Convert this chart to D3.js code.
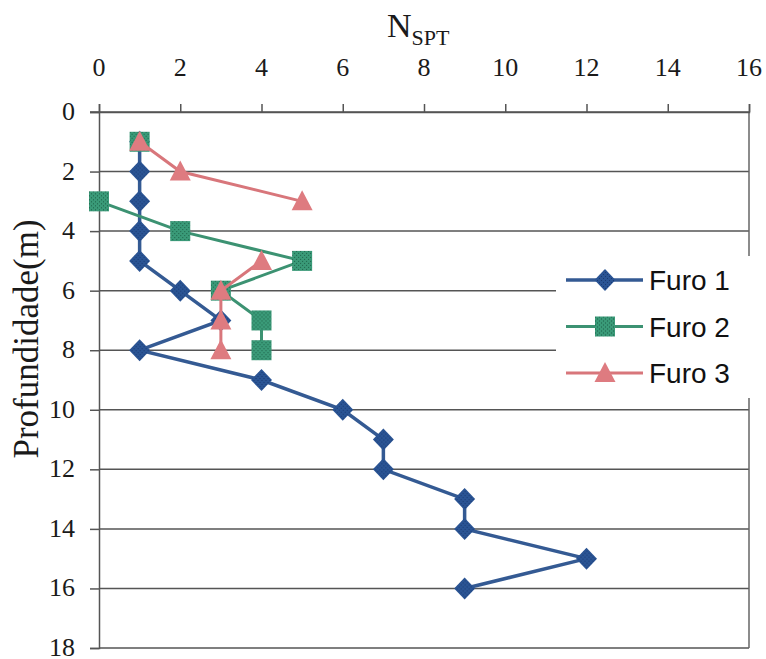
<!DOCTYPE html>
<html>
<head>
<meta charset="utf-8">
<script src="https://cdn.jsdelivr.net/npm/d3@7"></script>
<style>
  body { margin: 0; background: #fff; }
  text.lbl { font-family: "Liberation Serif", "Times New Roman", serif; font-size: 26px; fill: #1a1a1a; }
</style>
</head>
<body>
<svg id="chart" width="766" height="659"></svg>
<script>
// depths (m) and N_SPT per borehole, null = no reading
const depths = [1, 2, 3, 4, 5, 6, 7, 8, 9, 10, 11, 12, 13, 14, 15, 16];
const furo1 = [1, 1, 1, 1, 1, 2, 3, 1, 4, 6, 7, 7, 9, 9, 12, 9];
const furo2 = [1, null, 0, 2, 5, 3, 4, 4];
const furo3 = [1, 2, 5, null, 4, 3, 3, 3];
const seriesNames = ["Furo 1", "Furo 2", "Furo 3"];
const xTicks = [0, 2, 4, 6, 8, 10, 12, 14, 16];
const yTicks = [0, 2, 4, 6, 8, 10, 12, 14, 16, 18];

const svg = d3.select("#chart");
const x = d3.scaleLinear().domain([0, 16]).range([99, 749]);
const y = d3.scaleLinear().domain([0, 18]).range([112, 648]);

// textures for markers
const defs = svg.append("defs");
function dotted(id, base, dot) {
  const p = defs.append("pattern").attr("id", id)
    .attr("width", 4).attr("height", 4).attr("patternUnits", "userSpaceOnUse");
  p.append("rect").attr("width", 4).attr("height", 4).attr("fill", base);
  p.append("rect").attr("x", 0).attr("y", 0).attr("width", 1).attr("height", 1).attr("fill", dot);
  p.append("rect").attr("x", 2).attr("y", 2).attr("width", 1).attr("height", 1).attr("fill", dot);
}
dotted("texBlue", "#2a5494", "#1a3a72");
dotted("texGreen", "#3a9a78", "#1c5f47");

const styles = [
  { line: "#345a93", fill: "url(#texBlue)", width: 3.5, shape: "diamond" },
  { line: "#3c9272", fill: "url(#texGreen)", width: 3, shape: "square" },
  { line: "#d8767b", fill: "#de7b80", width: 3, shape: "triangle" }
];

function shapePath(shape) {
  if (shape === "diamond") return "M0,-11L10.5,0L0,11L-10.5,0Z";
  if (shape === "square") return "M-10,-10H10V10H-10Z";
  return "M0,-11L10.5,9L-10.5,9Z";
}

// grid lines
svg.append("g").selectAll("line")
  .data(yTicks.slice(1))
  .join("line")
  .attr("x1", x(0)).attr("x2", x(16))
  .attr("y1", d => y(d)).attr("y2", d => y(d))
  .attr("stroke", "#555").attr("stroke-width", 1.5);

// right border
svg.append("line")
  .attr("x1", x(16)).attr("x2", x(16))
  .attr("y1", y(0)).attr("y2", y(18))
  .attr("stroke", "#666").attr("stroke-width", 1.5);

// axes (tick marks from d3, labels drawn below with the same scales)
const xAxisG = svg.append("g")
  .attr("transform", `translate(0,${y(0)})`)
  .call(d3.axisTop(x).tickValues(xTicks).tickSize(8).tickFormat(""));
const yAxisG = svg.append("g")
  .attr("transform", `translate(${x(0)},0)`)
  .call(d3.axisLeft(y).tickValues(yTicks).tickSize(9).tickFormat(""));
[xAxisG, yAxisG].forEach(g => {
  g.select(".domain").attr("stroke", "#555").attr("stroke-width", 1.5);
  g.selectAll(".tick line").attr("stroke", "#555").attr("stroke-width", 1.5);
});
svg.selectAll("text.xl")
  .data(xTicks)
  .join("text")
  .attr("class", "lbl xl")
  .attr("x", d => x(d))
  .attr("y", 76)
  .attr("text-anchor", "middle")
  .text(d => d);
svg.selectAll("text.yl")
  .data(yTicks)
  .join("text")
  .attr("class", "lbl yl")
  .attr("x", 75)
  .attr("y", d => y(d) + 8)
  .attr("text-anchor", "end")
  .text(d => d);

// top axis line also runs left of the y axis like the tick at 0
svg.append("line")
  .attr("x1", x(0) - 9).attr("x2", x(16))
  .attr("y1", y(0)).attr("y2", y(0))
  .attr("stroke", "#555").attr("stroke-width", 1.5);

// axis titles
const title = svg.append("text")
  .attr("class", "lbl")
  .attr("x", 387).attr("y", 37);
title.append("tspan").style("font-size", "34px").text("N");
title.append("tspan").style("font-size", "22px").attr("dy", 8).text("SPT");

svg.append("text")
  .attr("class", "lbl")
  .attr("transform", `translate(38,339) rotate(-90)`)
  .attr("text-anchor", "middle")
  .style("font-size", "35px")
  .text("Profundidade(m)");

// series
const allSeries = [furo1, furo2, furo3].map((vals, i) => ({
  name: seriesNames[i],
  style: styles[i],
  points: vals.map((v, j) => ({ n: v, depth: depths[j] }))
}));

const line = d3.line()
  .defined(d => d.n !== null)
  .x(d => x(d.n))
  .y(d => y(d.depth));

allSeries.forEach(s => {
  const g = svg.append("g");
  g.append("path")
    .datum(s.points)
    .attr("d", line)
    .attr("fill", "none")
    .attr("stroke", s.style.line)
    .attr("stroke-width", s.style.width);
  g.selectAll("path.mark")
    .data(s.points.filter(d => d.n !== null))
    .join("path")
    .attr("class", "mark")
    .attr("transform", d => `translate(${x(d.n)},${y(d.depth)})`)
    .attr("d", shapePath(s.style.shape))
    .attr("fill", s.style.fill);
});

// legend
const legend = svg.append("g");
legend.append("rect")
  .attr("x", 556).attr("y", 256).attr("width", 197).attr("height", 142)
  .attr("fill", "#fff");
allSeries.forEach((s, i) => {
  const ly = 280 + i * 46.5;
  legend.append("line")
    .attr("x1", 566).attr("x2", 643).attr("y1", ly).attr("y2", ly)
    .attr("stroke", s.style.line).attr("stroke-width", s.style.width);
  legend.append("path")
    .attr("transform", `translate(605,${ly})`)
    .attr("d", shapePath(s.style.shape))
    .attr("fill", s.style.fill);
  legend.append("text")
    .attr("x", 649).attr("y", ly + 10)
    .style("font-family", "'Liberation Sans', Arial, sans-serif")
    .style("font-size", "28px")
    .attr("fill", "#111")
    .text(s.name);
});
</script>
</body>
</html>
